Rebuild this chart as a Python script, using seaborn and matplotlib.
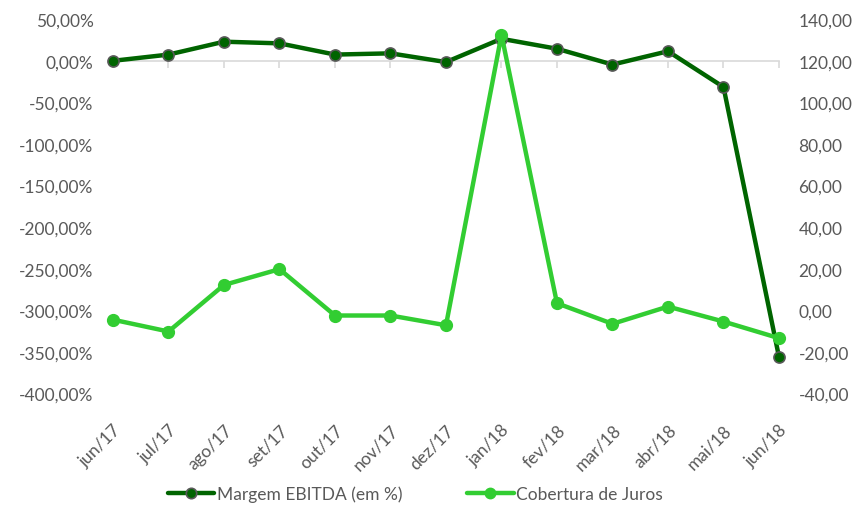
import matplotlib
matplotlib.use("Agg")
import matplotlib.pyplot as plt
import seaborn as sns
import pandas as pd
import numpy as np
from matplotlib.lines import Line2D

meses = ["jun/17", "jul/17", "ago/17", "set/17", "out/17", "nov/17", "dez/17",
         "jan/18", "fev/18", "mar/18", "abr/18", "mai/18", "jun/18"]
margem_ebitda = [0.0, 7.5, 23.0, 21.0, 7.5, 9.0, -1.5, 26.5, 14.5, -4.5, 11.5, -31.5, -356.0]
cobertura_juros = [-4.5, -10.2, 12.2, 19.8, -2.5, -2.5, -7.2, 132.5, 3.4, -6.5, 1.8, -5.4, -13.4]
left_ticks = [-400, -350, -300, -250, -200, -150, -100, -50, 0, 50]
right_ticks = [-40, -20, 0, 20, 40, 60, 80, 100, 120, 140]

sns.set_theme(style="white")
plt.rcParams['font.family'] = ['Lato', 'DejaVu Sans']

dark = "#006400"
light = "#32CD32"
gray_txt = "#595959"

df = pd.DataFrame({"x": np.arange(len(meses)), "mes": meses,
                   "margem": margem_ebitda, "cob": cobertura_juros})

fig = plt.figure(figsize=(8.58, 5.06), dpi=100)
ax = fig.add_axes([0.1317, 0.2204, 0.9079 - 0.1317, 0.96 - 0.2204])
ax2 = ax.twinx()

sns.lineplot(data=df, x="x", y="margem", ax=ax, color=dark, linewidth=3.2,
             marker="o", markersize=8, markerfacecolor=dark,
             markeredgecolor="#595959", markeredgewidth=1.2, sort=False)
sns.lineplot(data=df, x="x", y="cob", ax=ax2, color=light, linewidth=3.2,
             marker="o", markersize=8.5, markerfacecolor=light,
             markeredgecolor=light, markeredgewidth=1, sort=False)
for a in (ax, ax2):
    for ln in a.get_lines():
        ln.set_clip_on(False)

ax.set_xlim(0, len(meses) - 1)
ax.set_ylim(-400, 50)
ax2.set_ylim(-40, 140)
ax.set_yticks(left_ticks)
ax.set_yticklabels([f"{v:.2f}".replace(".", ",") + "%" for v in left_ticks])
ax2.set_yticks(right_ticks)
ax2.set_yticklabels([f"{v:.2f}".replace(".", ",") for v in right_ticks])

for a in (ax, ax2):
    a.set_xlabel("")
    a.set_ylabel("")
    for s in ["top", "left", "right"]:
        a.spines[s].set_visible(False)
    a.grid(False)
ax2.spines["bottom"].set_visible(False)

# category axis crossing at zero
ax.spines["bottom"].set_position(("data", 0))
ax.spines["bottom"].set_color("#d9d9d9")
ax.spines["bottom"].set_linewidth(1.2)
ax.spines["bottom"].set_zorder(0)
ax.set_xticks(df["x"])
ax.tick_params(axis="x", direction="out", length=5, width=1.2, color="#d9d9d9",
               labelbottom=False, bottom=True)
ax2.tick_params(axis="x", bottom=False, labelbottom=False)

sec = ax.secondary_xaxis("bottom")
sec.set_xticks(df["x"])
sec.set_xticklabels(meses, rotation=45, ha="right", rotation_mode="anchor",
                    fontsize=12.5, color=gray_txt)
sec.tick_params(length=0, pad=20)
sec.spines["bottom"].set_visible(False)

ax.tick_params(axis="y", length=0, labelsize=12.5, labelcolor=gray_txt, pad=14)
ax2.tick_params(axis="y", length=0, labelsize=12.5, labelcolor=gray_txt, pad=14)

handles = [
    Line2D([], [], color=dark, linewidth=3.2, marker="o", markersize=7.5,
           markerfacecolor=dark, markeredgecolor="#595959", markeredgewidth=1.2),
    Line2D([], [], color=light, linewidth=3.2, marker="o", markersize=7.5,
           markerfacecolor=light, markeredgecolor=light),
]
fig.legend(handles, ["Margem EBITDA (em %)", "Cobertura de Juros"],
           loc="center", bbox_to_anchor=(0.484, 0.022), ncol=2, frameon=False,
           fontsize=12.5, labelcolor=gray_txt, handlelength=2.7,
           handletextpad=0.15, columnspacing=3.7)

fig.savefig("out.png", dpi=100)
